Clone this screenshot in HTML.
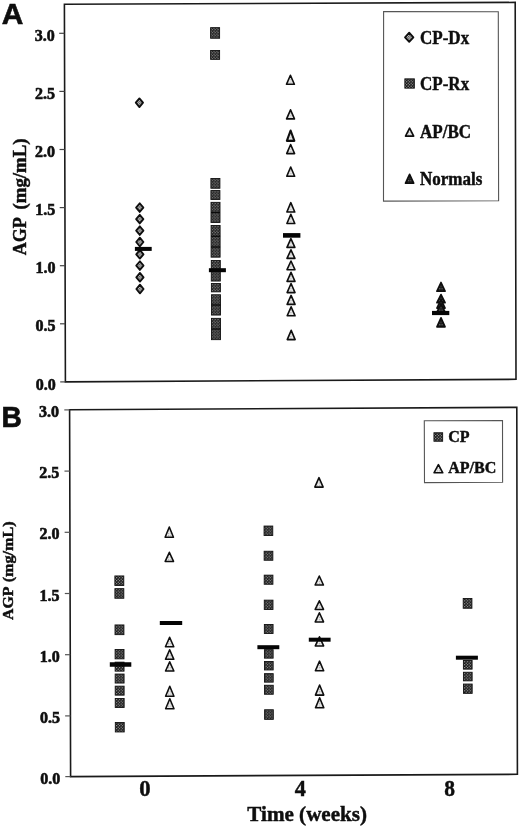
<!DOCTYPE html><html><head><meta charset="utf-8"><title>AGP figure</title><style>html,body{margin:0;padding:0;background:#fff;overflow:hidden;}svg{display:block;will-change:transform;filter:blur(0.3px);}</style></head><body>
<svg width="520" height="828" viewBox="0 0 520 828">
<defs>
<pattern id="pd" width="2.4" height="2.4" patternUnits="userSpaceOnUse"><rect width="2.4" height="2.4" fill="#d8d8d8"/><rect width="1.2" height="1.2" fill="#444"/><rect x="1.2" y="1.2" width="1.2" height="1.2" fill="#444"/></pattern>
<pattern id="ps" width="2.9" height="2.9" patternUnits="userSpaceOnUse"><rect width="2.9" height="2.9" fill="#111"/><circle cx="0.7" cy="0.7" r="0.6" fill="#c8c8c8"/><circle cx="2.15" cy="2.15" r="0.6" fill="#c8c8c8"/></pattern>
<pattern id="pt" width="2.4" height="2.4" patternUnits="userSpaceOnUse"><rect width="2.4" height="2.4" fill="#ececec"/><rect width="1.1" height="1.1" fill="#a8a8a8"/></pattern>
<pattern id="pn" width="2.4" height="2.4" patternUnits="userSpaceOnUse"><rect width="2.4" height="2.4" fill="#1c1c1c"/><rect width="1.1" height="1.1" fill="#707070"/></pattern>
</defs>
<rect width="520" height="828" fill="#fff"/>
<text transform="translate(1.70,24.20) scale(0.990,1)" font-family='"Liberation Sans", sans-serif' font-size="30.20" font-weight="bold" text-anchor="start" fill="#0e0e0e" stroke="#0e0e0e" stroke-width="0.60">A</text>
<polygon points="64.40,4.20 515.20,2.40 516.00,379.30 65.40,381.90" fill="none" stroke="#1a1a1a" stroke-width="1.60"/>
<line x1="59.20" y1="33.30" x2="64.40" y2="33.30" stroke="#444" stroke-width="1.20"/>
<text transform="translate(54.70,40.90)" font-family='"Liberation Serif", serif' font-size="16.00" font-weight="bold" text-anchor="end" fill="#0e0e0e" stroke="#0e0e0e" stroke-width="0.60">3.0</text>
<line x1="59.37" y1="91.40" x2="64.57" y2="91.40" stroke="#444" stroke-width="1.20"/>
<text transform="translate(54.88,99.00)" font-family='"Liberation Serif", serif' font-size="16.00" font-weight="bold" text-anchor="end" fill="#0e0e0e" stroke="#0e0e0e" stroke-width="0.60">2.5</text>
<line x1="59.53" y1="149.50" x2="64.73" y2="149.50" stroke="#444" stroke-width="1.20"/>
<text transform="translate(55.07,157.10)" font-family='"Liberation Serif", serif' font-size="16.00" font-weight="bold" text-anchor="end" fill="#0e0e0e" stroke="#0e0e0e" stroke-width="0.60">2.0</text>
<line x1="59.70" y1="207.60" x2="64.90" y2="207.60" stroke="#444" stroke-width="1.20"/>
<text transform="translate(55.25,215.20)" font-family='"Liberation Serif", serif' font-size="16.00" font-weight="bold" text-anchor="end" fill="#0e0e0e" stroke="#0e0e0e" stroke-width="0.60">1.5</text>
<line x1="59.87" y1="265.70" x2="65.07" y2="265.70" stroke="#444" stroke-width="1.20"/>
<text transform="translate(55.43,273.30)" font-family='"Liberation Serif", serif' font-size="16.00" font-weight="bold" text-anchor="end" fill="#0e0e0e" stroke="#0e0e0e" stroke-width="0.60">1.0</text>
<line x1="60.03" y1="323.80" x2="65.23" y2="323.80" stroke="#444" stroke-width="1.20"/>
<text transform="translate(55.62,331.40)" font-family='"Liberation Serif", serif' font-size="16.00" font-weight="bold" text-anchor="end" fill="#0e0e0e" stroke="#0e0e0e" stroke-width="0.60">0.5</text>
<line x1="60.20" y1="381.90" x2="65.40" y2="381.90" stroke="#444" stroke-width="1.20"/>
<text transform="translate(55.80,389.50)" font-family='"Liberation Serif", serif' font-size="16.00" font-weight="bold" text-anchor="end" fill="#0e0e0e" stroke="#0e0e0e" stroke-width="0.60">0.0</text>
<text transform="translate(26.10,255.30) rotate(-90) scale(0.985,1)" font-family='"Liberation Serif", serif' font-size="18.30" font-weight="bold" text-anchor="start" fill="#0e0e0e" stroke="#0e0e0e" stroke-width="0.45">AGP</text>
<text transform="translate(26.10,209.40) rotate(-90) scale(1.025,1)" font-family='"Liberation Serif", serif' font-size="18.30" font-weight="bold" text-anchor="start" fill="#0e0e0e" stroke="#0e0e0e" stroke-width="0.45">(mg/mL)</text>
<polygon points="383.60,11.60 498.30,11.70 498.60,200.80 383.50,201.10" fill="none" stroke="#555" stroke-width="1.10"/>
<polygon points="409.20,32.70 413.40,37.30 409.20,41.90 405.00,37.30" fill="url(#pd)" stroke="#0e0e0e" stroke-width="1.80" stroke-linejoin="round"/>
<rect x="404.85" y="78.85" width="9.50" height="9.30" fill="url(#ps)" stroke="#111" stroke-width="0.9"/>
<polygon points="409.60,128.19 413.65,136.05 405.55,136.05" fill="url(#pt)" stroke="#0e0e0e" stroke-width="1.70" stroke-linejoin="round"/>
<polygon points="409.60,174.39 413.65,183.15 405.55,183.15" fill="url(#pn)" stroke="#0e0e0e" stroke-width="1.70" stroke-linejoin="round"/>
<text transform="translate(420.00,43.80) scale(0.925,1)" font-family='"Liberation Serif", serif' font-size="18.40" font-weight="bold" text-anchor="start" fill="#0e0e0e" stroke="#0e0e0e" stroke-width="0.45">CP-Dx</text>
<text transform="translate(420.00,90.00) scale(0.925,1)" font-family='"Liberation Serif", serif' font-size="18.40" font-weight="bold" text-anchor="start" fill="#0e0e0e" stroke="#0e0e0e" stroke-width="0.45">CP-Rx</text>
<text transform="translate(420.00,137.90) scale(0.925,1)" font-family='"Liberation Serif", serif' font-size="18.40" font-weight="bold" text-anchor="start" fill="#0e0e0e" stroke="#0e0e0e" stroke-width="0.45">AP/BC</text>
<text transform="translate(420.00,185.00) scale(0.925,1)" font-family='"Liberation Serif", serif' font-size="18.40" font-weight="bold" text-anchor="start" fill="#0e0e0e" stroke="#0e0e0e" stroke-width="0.45">Normals</text>
<polygon points="139.40,98.35 143.05,102.70 139.40,107.05 135.75,102.70" fill="url(#pd)" stroke="#0e0e0e" stroke-width="1.80" stroke-linejoin="round"/>
<polygon points="139.72,203.25 143.37,207.60 139.72,211.95 136.07,207.60" fill="url(#pd)" stroke="#0e0e0e" stroke-width="1.80" stroke-linejoin="round"/>
<polygon points="139.75,214.75 143.40,219.10 139.75,223.45 136.10,219.10" fill="url(#pd)" stroke="#0e0e0e" stroke-width="1.80" stroke-linejoin="round"/>
<polygon points="139.79,226.25 143.44,230.60 139.79,234.95 136.14,230.60" fill="url(#pd)" stroke="#0e0e0e" stroke-width="1.80" stroke-linejoin="round"/>
<polygon points="139.82,237.65 143.47,242.00 139.82,246.35 136.17,242.00" fill="url(#pd)" stroke="#0e0e0e" stroke-width="1.80" stroke-linejoin="round"/>
<polygon points="139.86,249.95 143.51,254.30 139.86,258.65 136.21,254.30" fill="url(#pd)" stroke="#0e0e0e" stroke-width="1.80" stroke-linejoin="round"/>
<polygon points="139.89,261.25 143.54,265.60 139.89,269.95 136.24,265.60" fill="url(#pd)" stroke="#0e0e0e" stroke-width="1.80" stroke-linejoin="round"/>
<polygon points="139.93,272.95 143.58,277.30 139.93,281.65 136.28,277.30" fill="url(#pd)" stroke="#0e0e0e" stroke-width="1.80" stroke-linejoin="round"/>
<polygon points="139.96,284.65 143.61,289.00 139.96,293.35 136.31,289.00" fill="url(#pd)" stroke="#0e0e0e" stroke-width="1.80" stroke-linejoin="round"/>
<rect x="134.90" y="246.90" width="16.80" height="4.00" fill="#050505"/>
<rect x="210.60" y="27.65" width="9.00" height="10.60" fill="url(#ps)" stroke="#111" stroke-width="0.9"/>
<rect x="210.60" y="50.45" width="9.00" height="8.90" fill="url(#ps)" stroke="#111" stroke-width="0.9"/>
<rect x="210.90" y="178.45" width="9.00" height="9.80" fill="url(#ps)" stroke="#111" stroke-width="0.9"/>
<rect x="210.90" y="190.55" width="9.00" height="8.90" fill="url(#ps)" stroke="#111" stroke-width="0.9"/>
<rect x="211.00" y="202.35" width="9.00" height="20.10" fill="url(#ps)" stroke="#111" stroke-width="0.9"/>
<rect x="211.10" y="225.45" width="9.00" height="31.70" fill="url(#ps)" stroke="#111" stroke-width="0.9"/>
<rect x="211.30" y="260.55" width="9.00" height="20.50" fill="url(#ps)" stroke="#111" stroke-width="0.9"/>
<rect x="211.40" y="283.45" width="9.00" height="8.40" fill="url(#ps)" stroke="#111" stroke-width="0.9"/>
<rect x="211.50" y="294.75" width="9.00" height="20.30" fill="url(#ps)" stroke="#111" stroke-width="0.9"/>
<rect x="211.50" y="318.35" width="9.00" height="21.30" fill="url(#ps)" stroke="#111" stroke-width="0.9"/>
<rect x="211.00" y="211.75" width="9.0" height="1.3" fill="#0a0a0a"/>
<rect x="211.10" y="235.55" width="9.0" height="1.3" fill="#0a0a0a"/>
<rect x="211.10" y="246.35" width="9.0" height="1.3" fill="#0a0a0a"/>
<rect x="211.30" y="270.15" width="9.0" height="1.3" fill="#0a0a0a"/>
<rect x="211.50" y="304.35" width="9.0" height="1.3" fill="#0a0a0a"/>
<rect x="211.50" y="328.35" width="9.0" height="1.3" fill="#0a0a0a"/>
<rect x="208.90" y="268.20" width="17.00" height="4.00" fill="#050505"/>
<polygon points="290.42,75.24 294.37,84.30 286.47,84.30" fill="url(#pt)" stroke="#0e0e0e" stroke-width="1.60" stroke-linejoin="round"/>
<polygon points="290.53,109.84 294.48,118.90 286.58,118.90" fill="url(#pt)" stroke="#0e0e0e" stroke-width="1.60" stroke-linejoin="round"/>
<polygon points="290.63,144.54 294.58,153.60 286.68,153.60" fill="url(#pt)" stroke="#0e0e0e" stroke-width="1.60" stroke-linejoin="round"/>
<polygon points="290.70,167.04 294.65,176.30 286.75,176.30" fill="url(#pt)" stroke="#0e0e0e" stroke-width="1.60" stroke-linejoin="round"/>
<polygon points="290.81,202.64 294.76,212.00 286.86,212.00" fill="url(#pt)" stroke="#0e0e0e" stroke-width="1.60" stroke-linejoin="round"/>
<polygon points="290.84,214.24 294.79,223.50 286.89,223.50" fill="url(#pt)" stroke="#0e0e0e" stroke-width="1.60" stroke-linejoin="round"/>
<polygon points="290.91,238.64 294.86,247.40 286.96,247.40" fill="url(#pt)" stroke="#0e0e0e" stroke-width="1.60" stroke-linejoin="round"/>
<polygon points="290.95,249.84 294.90,258.40 287.00,258.40" fill="url(#pt)" stroke="#0e0e0e" stroke-width="1.60" stroke-linejoin="round"/>
<polygon points="290.98,261.04 294.93,269.70 287.03,269.70" fill="url(#pt)" stroke="#0e0e0e" stroke-width="1.60" stroke-linejoin="round"/>
<polygon points="291.01,272.34 294.96,281.40 287.06,281.40" fill="url(#pt)" stroke="#0e0e0e" stroke-width="1.60" stroke-linejoin="round"/>
<polygon points="291.05,283.54 295.00,292.60 287.10,292.60" fill="url(#pt)" stroke="#0e0e0e" stroke-width="1.60" stroke-linejoin="round"/>
<polygon points="291.08,295.44 295.03,304.40 287.13,304.40" fill="url(#pt)" stroke="#0e0e0e" stroke-width="1.60" stroke-linejoin="round"/>
<polygon points="291.12,306.84 295.07,315.80 287.17,315.80" fill="url(#pt)" stroke="#0e0e0e" stroke-width="1.60" stroke-linejoin="round"/>
<polygon points="291.19,330.34 295.14,339.60 287.24,339.60" fill="url(#pt)" stroke="#0e0e0e" stroke-width="1.60" stroke-linejoin="round"/>
<polygon points="290.60,130.50 294.35,140.85 286.85,140.85" fill="url(#pt)" stroke="#0e0e0e" stroke-width="2.10" stroke-linejoin="round"/>
<rect x="283.00" y="233.10" width="17.40" height="4.60" fill="#050505"/>
<polygon points="441.00,282.49 445.05,291.15 436.95,291.15" fill="url(#pn)" stroke="#0e0e0e" stroke-width="1.70" stroke-linejoin="round"/>
<polygon points="441.00,294.59 445.05,302.75 436.95,302.75" fill="url(#pn)" stroke="#0e0e0e" stroke-width="1.70" stroke-linejoin="round"/>
<polygon points="441.00,299.49 445.05,308.05 436.95,308.05" fill="url(#pn)" stroke="#0e0e0e" stroke-width="1.70" stroke-linejoin="round"/>
<polygon points="441.00,303.89 445.05,312.15 436.95,312.15" fill="url(#pn)" stroke="#0e0e0e" stroke-width="1.70" stroke-linejoin="round"/>
<polygon points="441.00,317.89 445.05,326.85 436.95,326.85" fill="url(#pn)" stroke="#0e0e0e" stroke-width="1.70" stroke-linejoin="round"/>
<rect x="432.00" y="310.90" width="17.30" height="4.20" fill="#050505"/>
<text transform="translate(1.40,427.30) scale(0.950,1)" font-family='"Liberation Sans", sans-serif' font-size="29.60" font-weight="bold" text-anchor="start" fill="#0e0e0e" stroke="#0e0e0e" stroke-width="0.70">B</text>
<polygon points="69.60,409.80 516.80,407.30 517.40,774.30 70.60,776.60" fill="none" stroke="#1a1a1a" stroke-width="1.60"/>
<line x1="64.30" y1="409.90" x2="69.60" y2="409.90" stroke="#555" stroke-width="1.20"/>
<text transform="translate(59.00,416.90)" font-family='"Liberation Serif", serif' font-size="16.00" font-weight="bold" text-anchor="end" fill="#0e0e0e" stroke="#0e0e0e" stroke-width="0.60">3.0</text>
<line x1="64.47" y1="471.10" x2="69.77" y2="471.10" stroke="#555" stroke-width="1.20"/>
<text transform="translate(59.20,478.10)" font-family='"Liberation Serif", serif' font-size="16.00" font-weight="bold" text-anchor="end" fill="#0e0e0e" stroke="#0e0e0e" stroke-width="0.60">2.5</text>
<line x1="64.63" y1="532.30" x2="69.93" y2="532.30" stroke="#555" stroke-width="1.20"/>
<text transform="translate(59.40,539.30)" font-family='"Liberation Serif", serif' font-size="16.00" font-weight="bold" text-anchor="end" fill="#0e0e0e" stroke="#0e0e0e" stroke-width="0.60">2.0</text>
<line x1="64.80" y1="593.50" x2="70.10" y2="593.50" stroke="#555" stroke-width="1.20"/>
<text transform="translate(59.60,600.50)" font-family='"Liberation Serif", serif' font-size="16.00" font-weight="bold" text-anchor="end" fill="#0e0e0e" stroke="#0e0e0e" stroke-width="0.60">1.5</text>
<line x1="64.97" y1="654.70" x2="70.27" y2="654.70" stroke="#555" stroke-width="1.20"/>
<text transform="translate(59.80,661.70)" font-family='"Liberation Serif", serif' font-size="16.00" font-weight="bold" text-anchor="end" fill="#0e0e0e" stroke="#0e0e0e" stroke-width="0.60">1.0</text>
<line x1="65.13" y1="715.90" x2="70.43" y2="715.90" stroke="#555" stroke-width="1.20"/>
<text transform="translate(60.00,722.90)" font-family='"Liberation Serif", serif' font-size="16.00" font-weight="bold" text-anchor="end" fill="#0e0e0e" stroke="#0e0e0e" stroke-width="0.60">0.5</text>
<line x1="65.30" y1="776.60" x2="70.60" y2="776.60" stroke="#555" stroke-width="1.20"/>
<text transform="translate(60.20,783.60)" font-family='"Liberation Serif", serif' font-size="16.00" font-weight="bold" text-anchor="end" fill="#0e0e0e" stroke="#0e0e0e" stroke-width="0.60">0.0</text>
<text transform="translate(13.10,619.90) rotate(-90) scale(1.040,1)" font-family='"Liberation Serif", serif' font-size="15.20" font-weight="bold" text-anchor="start" fill="#0e0e0e" stroke="#0e0e0e" stroke-width="0.45">AGP</text>
<text transform="translate(13.10,582.30) rotate(-90) scale(1.060,1)" font-family='"Liberation Serif", serif' font-size="15.20" font-weight="bold" text-anchor="start" fill="#0e0e0e" stroke="#0e0e0e" stroke-width="0.45">(mg/mL)</text>
<text transform="translate(144.90,796.00) scale(0.970,1)" font-family='"Liberation Serif", serif' font-size="23.40" font-weight="bold" text-anchor="middle" fill="#0e0e0e" stroke="#0e0e0e" stroke-width="0.45">0</text>
<text transform="translate(300.30,795.90) scale(0.950,1)" font-family='"Liberation Serif", serif' font-size="23.40" font-weight="bold" text-anchor="middle" fill="#0e0e0e" stroke="#0e0e0e" stroke-width="0.45">4</text>
<text transform="translate(449.60,795.90) scale(0.920,1)" font-family='"Liberation Serif", serif' font-size="23.40" font-weight="bold" text-anchor="middle" fill="#0e0e0e" stroke="#0e0e0e" stroke-width="0.45">8</text>
<text transform="translate(307.20,820.80)" font-family='"Liberation Serif", serif' font-size="21.10" font-weight="bold" text-anchor="middle" fill="#0e0e0e" stroke="#0e0e0e" stroke-width="0.45">Time (weeks)</text>
<polygon points="424.30,420.80 502.50,420.60 502.60,482.30 424.50,482.60" fill="none" stroke="#555" stroke-width="1.10"/>
<rect x="433.95" y="432.75" width="8.70" height="8.50" fill="url(#ps)" stroke="#111" stroke-width="0.9"/>
<polygon points="438.40,464.64 442.80,472.80 434.00,472.80" fill="url(#pt)" stroke="#0e0e0e" stroke-width="1.60" stroke-linejoin="round"/>
<text transform="translate(448.20,442.40)" font-family='"Liberation Serif", serif' font-size="16.00" font-weight="bold" text-anchor="start" fill="#0e0e0e" stroke="#0e0e0e" stroke-width="0.45">CP</text>
<text transform="translate(448.20,472.60)" font-family='"Liberation Serif", serif' font-size="16.00" font-weight="bold" text-anchor="start" fill="#0e0e0e" stroke="#0e0e0e" stroke-width="0.45">AP/BC</text>
<rect x="114.88" y="575.95" width="8.90" height="9.50" fill="url(#ps)" stroke="#111" stroke-width="0.9"/>
<rect x="114.91" y="588.65" width="8.90" height="9.60" fill="url(#ps)" stroke="#111" stroke-width="0.9"/>
<rect x="115.02" y="624.95" width="8.90" height="9.70" fill="url(#ps)" stroke="#111" stroke-width="0.9"/>
<rect x="115.10" y="649.45" width="8.90" height="9.40" fill="url(#ps)" stroke="#111" stroke-width="0.9"/>
<rect x="115.14" y="662.15" width="8.90" height="9.00" fill="url(#ps)" stroke="#111" stroke-width="0.9"/>
<rect x="115.17" y="674.05" width="8.90" height="9.00" fill="url(#ps)" stroke="#111" stroke-width="0.9"/>
<rect x="115.21" y="686.15" width="8.90" height="9.00" fill="url(#ps)" stroke="#111" stroke-width="0.9"/>
<rect x="115.24" y="698.45" width="8.90" height="9.00" fill="url(#ps)" stroke="#111" stroke-width="0.9"/>
<rect x="115.32" y="722.55" width="8.90" height="9.40" fill="url(#ps)" stroke="#111" stroke-width="0.9"/>
<rect x="109.80" y="662.25" width="21.50" height="4.50" fill="#050505"/>
<polygon points="169.29,527.01 173.46,537.23 165.11,537.23" fill="url(#pt)" stroke="#0e0e0e" stroke-width="1.55" stroke-linejoin="round"/>
<polygon points="169.36,552.31 173.54,561.43 165.19,561.43" fill="url(#pt)" stroke="#0e0e0e" stroke-width="1.55" stroke-linejoin="round"/>
<polygon points="169.62,637.31 173.79,646.73 165.44,646.73" fill="url(#pt)" stroke="#0e0e0e" stroke-width="1.55" stroke-linejoin="round"/>
<polygon points="169.66,649.81 173.83,659.33 165.48,659.33" fill="url(#pt)" stroke="#0e0e0e" stroke-width="1.55" stroke-linejoin="round"/>
<polygon points="169.69,661.81 173.87,671.02 165.52,671.02" fill="url(#pt)" stroke="#0e0e0e" stroke-width="1.55" stroke-linejoin="round"/>
<polygon points="169.77,686.21 173.94,696.23 165.59,696.23" fill="url(#pt)" stroke="#0e0e0e" stroke-width="1.55" stroke-linejoin="round"/>
<polygon points="169.80,698.81 173.98,708.73 165.63,708.73" fill="url(#pt)" stroke="#0e0e0e" stroke-width="1.55" stroke-linejoin="round"/>
<rect x="159.80" y="621.00" width="22.40" height="4.00" fill="#050505"/>
<rect x="264.06" y="526.05" width="8.70" height="9.50" fill="url(#ps)" stroke="#111" stroke-width="0.9"/>
<rect x="264.14" y="551.25" width="8.70" height="9.00" fill="url(#ps)" stroke="#111" stroke-width="0.9"/>
<rect x="264.21" y="575.15" width="8.70" height="9.10" fill="url(#ps)" stroke="#111" stroke-width="0.9"/>
<rect x="264.28" y="600.15" width="8.70" height="9.30" fill="url(#ps)" stroke="#111" stroke-width="0.9"/>
<rect x="264.36" y="624.45" width="8.70" height="9.00" fill="url(#ps)" stroke="#111" stroke-width="0.9"/>
<rect x="264.43" y="649.65" width="8.70" height="8.50" fill="url(#ps)" stroke="#111" stroke-width="0.9"/>
<rect x="264.47" y="661.45" width="8.70" height="8.50" fill="url(#ps)" stroke="#111" stroke-width="0.9"/>
<rect x="264.50" y="673.65" width="8.70" height="8.50" fill="url(#ps)" stroke="#111" stroke-width="0.9"/>
<rect x="264.54" y="685.25" width="8.70" height="9.00" fill="url(#ps)" stroke="#111" stroke-width="0.9"/>
<rect x="264.61" y="709.75" width="8.70" height="9.60" fill="url(#ps)" stroke="#111" stroke-width="0.9"/>
<rect x="257.40" y="645.20" width="21.90" height="4.00" fill="#050505"/>
<polygon points="318.98,477.61 323.16,487.12 314.81,487.12" fill="url(#pt)" stroke="#0e0e0e" stroke-width="1.55" stroke-linejoin="round"/>
<polygon points="319.28,576.01 323.45,585.02 315.10,585.02" fill="url(#pt)" stroke="#0e0e0e" stroke-width="1.55" stroke-linejoin="round"/>
<polygon points="319.35,600.81 323.53,609.43 315.18,609.43" fill="url(#pt)" stroke="#0e0e0e" stroke-width="1.55" stroke-linejoin="round"/>
<polygon points="319.39,612.71 323.56,621.93 315.21,621.93" fill="url(#pt)" stroke="#0e0e0e" stroke-width="1.55" stroke-linejoin="round"/>
<polygon points="319.46,636.81 323.64,645.93 315.29,645.93" fill="url(#pt)" stroke="#0e0e0e" stroke-width="1.55" stroke-linejoin="round"/>
<polygon points="319.53,661.11 323.71,670.73 315.36,670.73" fill="url(#pt)" stroke="#0e0e0e" stroke-width="1.55" stroke-linejoin="round"/>
<polygon points="319.61,685.01 323.78,695.12 315.43,695.12" fill="url(#pt)" stroke="#0e0e0e" stroke-width="1.55" stroke-linejoin="round"/>
<polygon points="319.64,697.81 323.82,707.83 315.47,707.83" fill="url(#pt)" stroke="#0e0e0e" stroke-width="1.55" stroke-linejoin="round"/>
<rect x="308.80" y="637.70" width="21.80" height="4.00" fill="#050505"/>
<rect x="463.21" y="598.45" width="8.70" height="9.80" fill="url(#ps)" stroke="#111" stroke-width="0.9"/>
<rect x="463.39" y="660.45" width="8.70" height="8.70" fill="url(#ps)" stroke="#111" stroke-width="0.9"/>
<rect x="463.43" y="672.25" width="8.70" height="8.60" fill="url(#ps)" stroke="#111" stroke-width="0.9"/>
<rect x="463.47" y="684.05" width="8.70" height="9.30" fill="url(#ps)" stroke="#111" stroke-width="0.9"/>
<rect x="455.90" y="655.70" width="22.00" height="4.00" fill="#050505"/>
</svg></body></html>
